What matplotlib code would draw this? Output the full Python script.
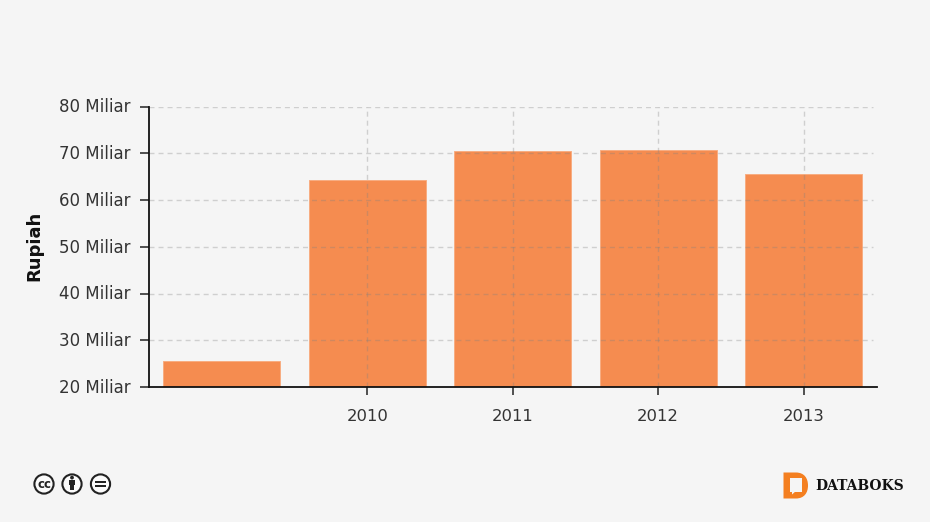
import matplotlib
matplotlib.use("Agg")
import matplotlib.pyplot as plt
from matplotlib.patches import Circle, Rectangle, PathPatch, Polygon
from matplotlib.path import Path
from matplotlib.transforms import ScaledTranslation

W, H = 930, 522
positions = [0, 1, 2, 3, 4]
values = [25.5, 64.3, 70.4, 70.7, 65.6]
xtick_pos = [1, 2, 3, 4]
xtick_labels = ["2010", "2011", "2012", "2013"]
yticks = [20, 30, 40, 50, 60, 70, 80]
ylabels = [f"{v} Miliar" for v in yticks]

BG = "#f5f5f5"
TXT = "#333333"
plt.rcParams["font.family"] = "DejaVu Sans"

fig = plt.figure(figsize=(W / 100, H / 100), dpi=100, facecolor=BG)
L, R, T, B = 148.5, 877, 106.5, 387
ax = fig.add_axes([L / W, 1 - B / H, (R - L) / W, (B - T) / H], facecolor=BG)

ax.bar(positions, values, width=0.805, color="#f58c50", edgecolor="#f8ad82",
       linewidth=0.7, zorder=2, bottom=0)
ax.set_xlim(-0.505, 4.505)
ax.set_ylim(20, 80)

ax.set_yticks(yticks, ylabels)
ax.set_xticks(xtick_pos, xtick_labels)
ax.tick_params(axis="y", length=6.5, width=1.1, color="#222222", labelsize=12,
               labelcolor=TXT, pad=6.3)
ax.tick_params(axis="x", length=5.5, width=1.1, color="#222222", labelsize=11.8,
               labelcolor=TXT, pad=10)
up = ScaledTranslation(0, 1.2 / 100, fig.dpi_scale_trans)
for lab in ax.get_yticklabels():
    lab.set_transform(lab.get_transform() + up)

gc = (0.5, 0.5, 0.5, 0.32)
ax.hlines(yticks[1:], -0.505, 4.48, colors=[gc], linewidth=1.0,
          linestyles=(0, (3.6, 2.9)), zorder=3)
ax.vlines(xtick_pos, 20, 80, colors=[gc], linewidth=1.0,
          linestyles=(0, (3.6, 2.9)), zorder=3)

for s in ("top", "right"):
    ax.spines[s].set_visible(False)
for s in ("left", "bottom"):
    ax.spines[s].set_linewidth(1.3)
    ax.spines[s].set_color("#111111")
    ax.spines[s].set_zorder(5)

fig.text(34 / W, 1 - 245.5 / H, "Rupiah", rotation=90, ha="center", va="center",
         fontsize=13, fontweight="bold", color="#111111")

# Overlay in pixel coordinates for licence icons and logo
ov = fig.add_axes([0, 0, 1, 1], facecolor="none")
ov.set_xlim(0, W)
ov.set_ylim(H, 0)
ov.axis("off")

ic = "#222222"
for cx in (44, 72, 100.5):
    ov.add_patch(Circle((cx, 484), 9.6, fc="#fbfbfb", ec=ic, lw=1.5))
ov.text(44, 484.2, "cc", ha="center", va="center", fontsize=8.5,
        fontweight="bold", color=ic)
ov.add_patch(Circle((72, 477.6), 1.9, fc=ic, ec="none"))
ov.add_patch(Rectangle((69.2, 480), 5.6, 5.4, fc=ic, ec="none"))
ov.add_patch(Rectangle((70.4, 485), 3.2, 5.4, fc=ic, ec="none"))
ov.add_patch(Rectangle((95.3, 480.8), 10.4, 2.1, fc=ic, ec="none"))
ov.add_patch(Rectangle((95.3, 485.2), 10.4, 2.1, fc=ic, ec="none"))

org = "#f47f20"
verts = [(783.5, 472.5), (796, 472.5), (804, 472.5), (808, 478), (808, 485.5),
         (808, 493), (804, 498.5), (796, 498.5), (783.5, 498.5), (783.5, 472.5)]
codes = [Path.MOVETO, Path.LINETO, Path.CURVE4, Path.CURVE4, Path.CURVE4,
         Path.CURVE4, Path.CURVE4, Path.CURVE4, Path.LINETO, Path.CLOSEPOLY]
ov.add_patch(PathPatch(Path(verts, codes), fc=org, ec="none"))
ov.add_patch(Rectangle((790, 478), 11.5, 13.5, fc=BG, ec="none"))
ov.add_patch(Polygon([(792, 491), (796, 491), (792, 494.5)], fc=BG, ec="none"))
ov.text(815, 485.5, "DATABOKS", ha="left", va="center", fontsize=10.0,
        fontweight="bold", family="DejaVu Serif", color="#111111")

fig.savefig("out.png", dpi=100, facecolor=BG)
